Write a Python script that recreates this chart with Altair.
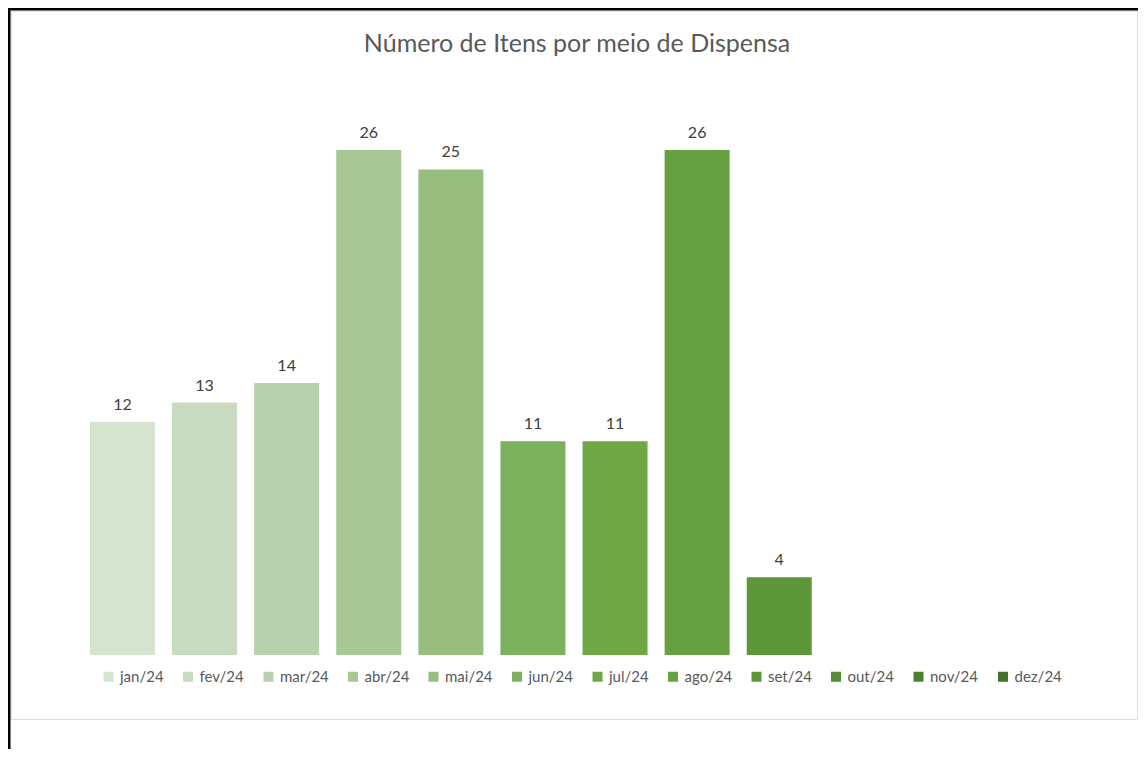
import altair as alt
import pandas as pd

TITLE = "Número de Itens por meio de Dispensa"
months = ["jan/24", "fev/24", "mar/24", "abr/24", "mai/24", "jun/24",
          "jul/24", "ago/24", "set/24", "out/24", "nov/24", "dez/24"]
values = [12, 13, 14, 26, 25, 11, 11, 26, 4, None, None, None]
colors = ["#D6E3CE", "#C8DABF", "#B9D0AC", "#A7C795", "#97BD7F", "#7EB15E",
          "#6EA744", "#67A041", "#5E963A", "#578C36", "#4F7F30", "#466F2A"]

df = pd.DataFrame({"mes": months, "valor": values})

W, H = 1126, 708

x = alt.X("mes:N", sort=months, axis=None,
          scale=alt.Scale(domain=months, paddingInner=0.2083,
                          paddingOuter=0.9617, align=0.5))
y = alt.Y("valor:Q", axis=None,
          scale=alt.Scale(domain=[0, 26], nice=False, zero=True, range=[644, 139]))

bars = alt.Chart(df).mark_bar().encode(
    x=x, y=y,
    color=alt.Color("mes:N", sort=months,
                    scale=alt.Scale(domain=months, range=colors),
                    legend=alt.Legend(title=None, orient="none", legendX=90, legendY=658,
                                      direction="horizontal", columns=12,
                                      symbolType="square", symbolSize=100,
                                      symbolStrokeWidth=0, symbolOpacity=1,
                                      labelFont="Lato", labelFontSize=15,
                                      labelColor="#595959", labelOffset=4,
                                      columnPadding=16.5, padding=0)),
)

labels = alt.Chart(df).mark_text(
    baseline="alphabetic", dy=-12, font="Lato", fontSize=16, color="#404040"
).encode(x=x, y=y, text=alt.Text("valor:Q", format="d"))

title = alt.Chart(pd.DataFrame({"t": [TITLE]})).mark_text(
    font="Lato", fontSize=25, color="#595959", baseline="middle", align="center"
).encode(text="t:N", x=alt.value(566), y=alt.value(33))

frame_top = alt.Chart(pd.DataFrame({"a": [0]})).mark_rule(
    color="black", strokeWidth=2.5
).encode(x=alt.value(-4), x2=alt.value(1130), y=alt.value(-1.75))
frame_left = alt.Chart(pd.DataFrame({"a": [0]})).mark_rule(
    color="black", strokeWidth=2.5
).encode(x=alt.value(-1.75), y=alt.value(-4), y2=alt.value(740))

chart = alt.layer(bars, labels, title, frame_top, frame_left).properties(
    width=W, height=H,
    autosize=alt.AutoSizeParams(type="none"),
    padding={"left": 3, "top": 3, "right": 1, "bottom": 30},
).configure_view(
    stroke="#D9D9D9", strokeWidth=1.5
).configure(background="white")

chart.save("out.html", embed_options={"renderer": "svg", "actions": False})
